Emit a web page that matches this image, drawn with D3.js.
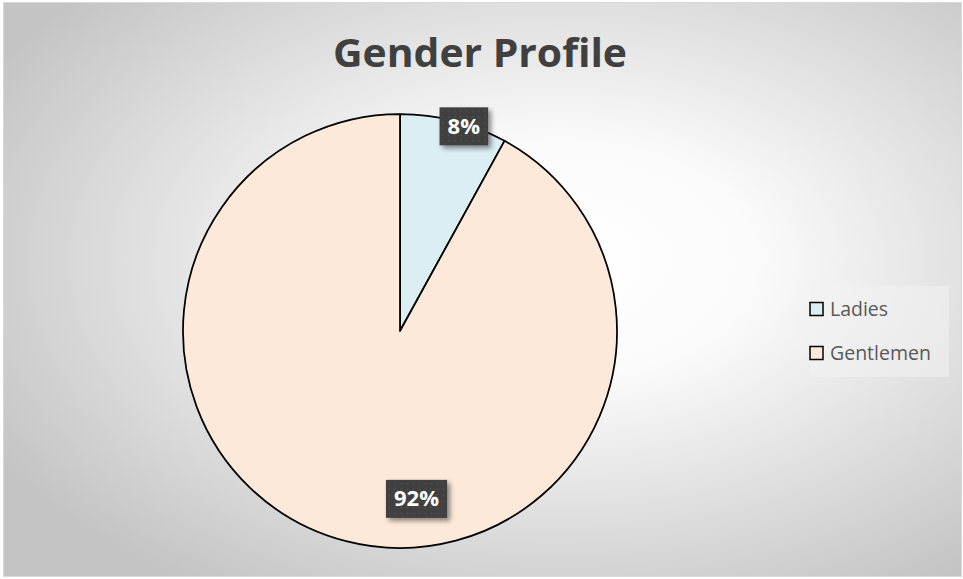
<!DOCTYPE html>
<html>
<head>
<meta charset="utf-8">
<script src="https://cdn.jsdelivr.net/npm/d3@7"></script>
<style>
  body { margin: 0; background: #fff; }
  svg { display: block; }
</style>
</head>
<body>
<svg></svg>
<script>
const svgWidth = 963
const svgHeight = 579

const categories = ["Ladies", "Gentlemen"]
const values = [8, 92]
const colors = ["#dbeef4", "#fde9d9"]

const pieCenter = { x: 400, y: 331 }
const radius = 217

const svg = d3.select("svg")
  .attr("width", svgWidth)
  .attr("height", svgHeight)

const defs = svg.append("defs")

const grad = defs.append("radialGradient")
  .attr("id", "bg-grad")
  .attr("cx", "0.58").attr("cy", "0.45").attr("r", "0.68")
grad.append("stop").attr("offset", "0").attr("stop-color", "#ffffff")
grad.append("stop").attr("offset", "0.3").attr("stop-color", "#fbfbfb")
grad.append("stop").attr("offset", "1").attr("stop-color", "#c4c4c4")

const pattern = defs.append("pattern")
  .attr("id", "dots")
  .attr("width", 6).attr("height", 6)
  .attr("patternUnits", "userSpaceOnUse")
pattern.append("rect").attr("width", 6).attr("height", 6).attr("fill", "#3f3f3f")
pattern.append("rect").attr("x", 2).attr("y", 2).attr("width", 2).attr("height", 2).attr("fill", "#4c4c4c")

const shadow = defs.append("filter")
  .attr("id", "shadow")
  .attr("x", "-30%").attr("y", "-30%").attr("width", "160%").attr("height", "160%")
shadow.append("feDropShadow")
  .attr("dx", 3).attr("dy", 3).attr("stdDeviation", 2.5)
  .attr("flood-color", "#000").attr("flood-opacity", 0.45)

// chart area
svg.append("rect")
  .attr("x", 3.5).attr("y", 2.5)
  .attr("width", svgWidth - 5).attr("height", svgHeight - 5)
  .attr("fill", "url(#bg-grad)")
  .attr("stroke", "#d9d9d9")
  .attr("stroke-width", 1)

svg.append("text")
  .text("Gender Profile")
  .attr("x", 480)
  .attr("y", 67)
  .attr("text-anchor", "middle")
  .attr("font-family", "'Open Sans', sans-serif")
  .attr("font-weight", "bold")
  .attr("font-size", 40)
  .attr("textLength", 294)
  .attr("lengthAdjust", "spacingAndGlyphs")
  .attr("fill", "#404040")

const pieData = d3.pie().sort(null).value(d => d)(values)
const arc = d3.arc().innerRadius(0).outerRadius(radius)

const pieGroup = svg.append("g")
  .attr("transform", `translate(${pieCenter.x},${pieCenter.y})`)

pieGroup.selectAll(".slice")
  .data(pieData)
  .enter()
  .append("path")
  .attr("class", "slice")
  .attr("d", arc)
  .attr("fill", (d, i) => colors[i])
  .attr("stroke", "#000")
  .attr("stroke-width", 1.75)
  .attr("stroke-linejoin", "round")

// excel "best fit" style label placement
function labelPos(d) {
  const span = d.endAngle - d.startAngle
  let a = (d.startAngle + d.endAngle) / 2 + 0.05
  let r = radius * 0.99
  if (span > Math.PI) {
    a = Math.PI - 0.098
    r = radius * 0.775
  }
  return [Math.sin(a) * r, -Math.cos(a) * r]
}

const total = d3.sum(values)
const labels = pieGroup.selectAll(".label")
  .data(pieData)
  .enter()
  .append("g")
  .attr("class", "label")
  .attr("transform", d => `translate(${labelPos(d)})`)

labels.append("text")
  .text(d => `${Math.round(d.value / total * 100)}%`)
  .attr("text-anchor", "middle")
  .attr("y", 8)
  .attr("font-family", "'Open Sans', sans-serif")
  .attr("font-weight", "bold")
  .attr("font-size", 22)
  .attr("fill", "#fff")
  .each(function () {
    const bb = this.getBBox()
    d3.select(this.parentNode).insert("rect", "text")
      .attr("x", bb.x - 8)
      .attr("y", -18.5)
      .attr("width", bb.width + 16)
      .attr("height", 38)
      .attr("fill", "url(#dots)")
      .attr("filter", "url(#shadow)")
  })

// legend
const legend = svg.append("g")
  .attr("transform", "translate(809,286)")

legend.append("rect")
  .attr("x", 1).attr("y", 0)
  .attr("width", 139).attr("height", 91)
  .attr("fill", "#f2f2f2")
  .attr("fill-opacity", 0.55)

const items = legend.selectAll(".legend-item")
  .data(categories)
  .enter()
  .append("g")
  .attr("transform", (d, i) => `translate(0,${16.5 + i * 44})`)

items.append("rect")
  .attr("x", 1).attr("y", 0)
  .attr("width", 13).attr("height", 13)
  .attr("fill", (d, i) => colors[i])
  .attr("stroke", "#000")
  .attr("stroke-width", 1.5)

items.append("text")
  .text(d => d)
  .attr("x", 21)
  .attr("y", 13.5)
  .attr("font-family", "'Open Sans', sans-serif")
  .attr("font-size", 19.5)
  .attr("fill", "#595959")
</script>
</body>
</html>
